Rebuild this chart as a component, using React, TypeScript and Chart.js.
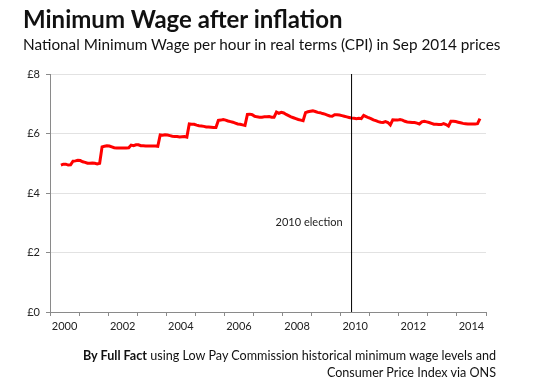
import React, { useEffect, useRef } from "react";
import { Chart, registerables } from "chart.js";

Chart.register(...registerables);

// ---- Data -------------------------------------------------------------
// Monthly real-terms National Minimum Wage (Sep 2014 prices, £/hour)
// first value = May 2000, last value = Oct 2014
const firstYear = 2000;
const firstMonth = 4; // 0 = January → May 2000
const realWage: number[] = [
  // 2000 May–Dec
  4.94, 4.97, 4.97, 4.94, 4.95, 5.07, 5.08, 5.1,
  // 2001
  5.09, 5.05, 5.03, 5.0, 5.0, 5.01, 5.0, 4.98, 5.0, 5.55, 5.57, 5.59,
  // 2002
  5.58, 5.55, 5.52, 5.51, 5.51, 5.51, 5.51, 5.51, 5.52, 5.61, 5.59, 5.62,
  // 2003
  5.62, 5.59, 5.59, 5.58, 5.58, 5.58, 5.58, 5.58, 5.57, 5.95, 5.94, 5.96,
  // 2004
  5.95, 5.93, 5.91, 5.9, 5.9, 5.88, 5.89, 5.9, 5.88, 6.32, 6.31, 6.31,
  // 2005
  6.28, 6.26, 6.25, 6.24, 6.22, 6.22, 6.21, 6.2, 6.2, 6.44, 6.45, 6.47,
  // 2006
  6.45, 6.42, 6.4, 6.38, 6.35, 6.32, 6.31, 6.29, 6.27, 6.64, 6.65, 6.63,
  // 2007
  6.58, 6.56, 6.55, 6.55, 6.56, 6.56, 6.57, 6.55, 6.55, 6.72, 6.68, 6.71,
  // 2008
  6.69, 6.64, 6.6, 6.56, 6.53, 6.5, 6.47, 6.45, 6.43, 6.7, 6.73, 6.75,
  // 2009
  6.76, 6.74, 6.71, 6.7, 6.67, 6.65, 6.62, 6.59, 6.58, 6.63, 6.63, 6.62,
  // 2010
  6.6, 6.58, 6.56, 6.54, 6.52, 6.51, 6.5, 6.51, 6.5, 6.61, 6.57, 6.53,
  // 2011
  6.5, 6.46, 6.43, 6.4, 6.38, 6.37, 6.4, 6.37, 6.29, 6.46, 6.45, 6.45,
  // 2012
  6.47, 6.45, 6.41, 6.39, 6.38, 6.37, 6.37, 6.35, 6.32, 6.39, 6.41, 6.39,
  // 2013
  6.37, 6.34, 6.31, 6.31, 6.3, 6.3, 6.33, 6.3, 6.25, 6.41, 6.41, 6.4,
  // 2014 Jan–Oct
  6.38, 6.36, 6.34, 6.33, 6.32, 6.32, 6.32, 6.32, 6.33, 6.5,
];

const xMin = 2000;
const xMax = 2015;
const xLabelYears = [2000, 2002, 2004, 2006, 2008, 2010, 2012, 2014];
const yTicks = [0, 2, 4, 6, 8];
const electionMonth = { year: 2010, month: 4 }; // May 2010
const electionLabel = "2010 election";
const electionLabelLevel = 3; // £ level at which the label sits

const titleText = "Minimum Wage after inflation";
const subtitleText =
  "National Minimum Wage per hour in real terms (CPI) in Sep 2014 prices";
const sourceBold = "By Full Fact";
const sourceLine1 = " using Low Pay Commission historical minimum wage levels and";
const sourceLine2 = "Consumer Price Index via ONS";

// ---- helpers ------------------------------------------------------------
const monthToX = (year: number, month: number) => year + (month + 0.5) / 12;

const FONT = "Lato, 'Open Sans', 'DejaVu Sans', sans-serif";

export default function App() {
  const canvasRef = useRef<HTMLCanvasElement | null>(null);

  useEffect(() => {
    const canvas = canvasRef.current;
    if (!canvas) return;

    const points = realWage.map((v, i) => {
      const mAbs = firstMonth + i;
      return {
        x: monthToX(firstYear + Math.floor(mAbs / 12), mAbs % 12),
        y: v,
      };
    });
    const electionX = monthToX(electionMonth.year, electionMonth.month);

    const electionLabelPlugin = {
      id: "electionLabel",
      afterDatasetsDraw(chart: any) {
        const { ctx, scales } = chart;
        const px = scales.x.getPixelForValue(electionX);
        const py = scales.y.getPixelForValue(electionLabelLevel);
        ctx.save();
        ctx.font = `11px ${FONT}`;
        ctx.fillStyle = "#222";
        ctx.textAlign = "right";
        ctx.textBaseline = "middle";
        ctx.fillText(electionLabel, px - 9, py);
        ctx.restore();
      },
    };

    const chart = new Chart(canvas, {
      type: "line",
      data: {
        datasets: [
          {
            label: "Real NMW",
            data: points,
            borderColor: "#ff0000",
            borderWidth: 3,
            pointRadius: 0,
            tension: 0,
            fill: false,
            order: 1,
          },
          {
            label: electionLabel,
            data: [
              { x: electionX, y: yTicks[0] },
              { x: electionX, y: yTicks[yTicks.length - 1] },
            ],
            borderColor: "#000000",
            borderWidth: 1,
            pointRadius: 0,
            fill: false,
            order: 0,
          },
        ],
      },
      options: {
        animation: false,
        responsive: false,
        maintainAspectRatio: false,
        layout: { padding: { left: 10, right: 64, top: 74, bottom: 48 } },
        plugins: {
          legend: { display: false },
          tooltip: { enabled: false },
          title: { display: false },
        },
        scales: {
          x: {
            type: "linear",
            min: xMin,
            max: xMax,
            afterBuildTicks: (scale: any) => {
              const t: { value: number }[] = [];
              for (let y = xMin; y <= xMax; y++) {
                t.push({ value: y });
                if (xLabelYears.includes(y)) t.push({ value: y + 0.5 });
              }
              scale.ticks = t;
            },
            afterFit: (scale: any) => {
              scale.height = 30;
            },
            border: { display: true, color: "#8a8a8a", width: 1 },
            grid: {
              display: true,
              drawOnChartArea: false,
              drawTicks: true,
              tickLength: 4,
              tickColor: (ctx: any) =>
                ctx.tick && Number.isInteger(ctx.tick.value)
                  ? "#8a8a8a"
                  : "rgba(0,0,0,0)",
              color: "rgba(0,0,0,0)",
            },
            ticks: {
              autoSkip: false,
              maxRotation: 0,
              minRotation: 0,
              padding: 4,
              color: "#222",
              font: { family: FONT, size: 11 },
              callback: (value: any) => {
                const v = Number(value);
                if (Number.isInteger(v)) return "";
                return String(Math.floor(v));
              },
            },
          },
          y: {
            type: "linear",
            min: yTicks[0],
            max: yTicks[yTicks.length - 1],
            afterBuildTicks: (scale: any) => {
              scale.ticks = yTicks.map((v) => ({ value: v }));
            },
            afterFit: (scale: any) => {
              scale.width = 40;
            },
            border: { display: true, color: "#8a8a8a", width: 1 },
            grid: {
              color: "#e2e2e2",
              lineWidth: 1,
              drawTicks: true,
              tickLength: 4,
              tickColor: "#8a8a8a",
            },
            ticks: {
              padding: 6,
              color: "#222",
              font: { family: FONT, size: 11 },
              callback: (value: any) => "£" + value,
            },
          },
        },
      },
      plugins: [electionLabelPlugin],
    } as any);

    return () => chart.destroy();
  }, []);

  return (
    <div
      style={{
        position: "absolute",
        left: 0,
        top: 0,
        width: 550,
        height: 390,
        background: "#ffffff",
        fontFamily: FONT,
        color: "#111",
      }}
    >
      <canvas
        ref={canvasRef}
        width={550}
        height={390}
        style={{ position: "absolute", left: 0, top: 0, width: 550, height: 390 }}
      />
      <div
        style={{
          position: "absolute",
          left: 23,
          top: 5,
          fontSize: 24,
          fontWeight: 700,
          lineHeight: "28px",
          whiteSpace: "nowrap",
        }}
      >
        {titleText}
      </div>
      <div
        style={{
          position: "absolute",
          left: 23,
          top: 35,
          fontSize: 15.3,
          lineHeight: "18px",
          whiteSpace: "nowrap",
        }}
      >
        {subtitleText}
      </div>
      <div
        style={{
          position: "absolute",
          right: 54,
          top: 347,
          fontSize: 12.6,
          lineHeight: "17px",
          textAlign: "right",
          whiteSpace: "nowrap",
        }}
      >
        <div>
          <b>{sourceBold}</b>
          {sourceLine1}
        </div>
        <div>{sourceLine2}</div>
      </div>
    </div>
  );
}
